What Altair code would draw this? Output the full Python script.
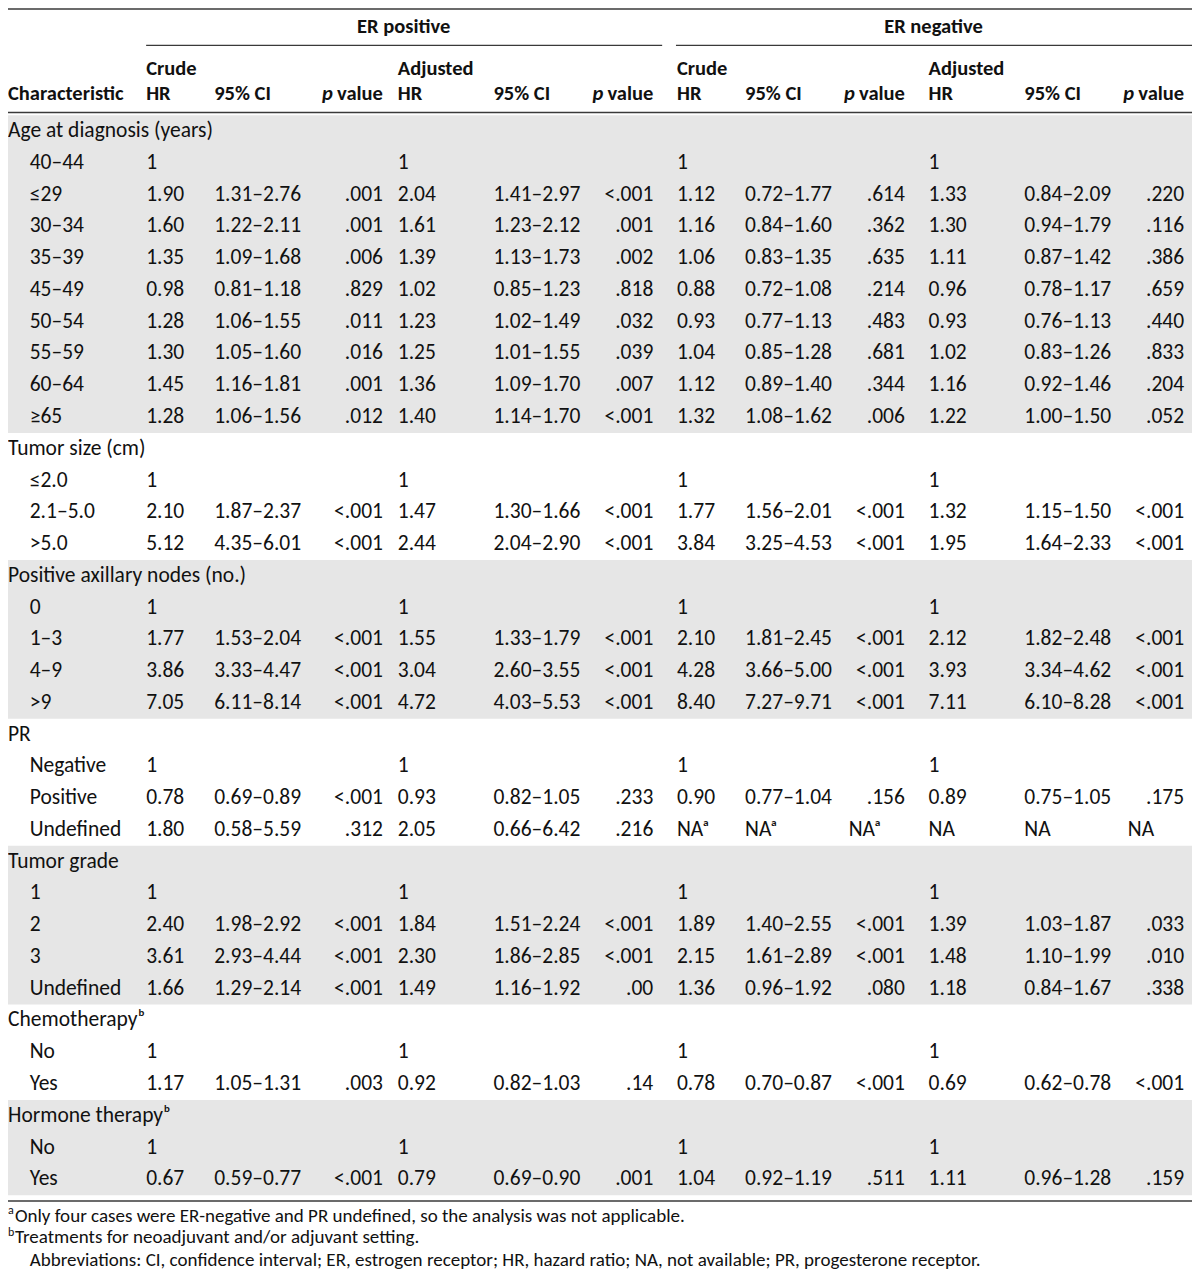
import altair as alt
import pandas as pd

# ---------------- data ----------------
GROUPS = ["Age at diagnosis (years)", "Tumor size (cm)", "Positive axillary nodes (no.)",
          "PR", "Tumor grade", "Chemotherapyᵇ", "Hormone therapyᵇ"]
LEVELS = [
    ["40–44", "≤29", "30–34", "35–39", "45–49", "50–54", "55–59", "60–64", "≥65"],
    ["≤2.0", "2.1–5.0", ">5.0"],
    ["0", "1–3", "4–9", ">9"],
    ["Negative", "Positive", "Undefined"],
    ["1", "2", "3", "Undefined"],
    ["No", "Yes"],
    ["No", "Yes"],
]
ERP_CRUDE_HR = ["1", "1.90", "1.60", "1.35", "0.98", "1.28", "1.30", "1.45", "1.28",
                "1", "2.10", "5.12", "1", "1.77", "3.86", "7.05", "1", "0.78", "1.80",
                "1", "2.40", "3.61", "1.66", "1", "1.17", "1", "0.67"]
ERP_CRUDE_CI = ["", "1.31–2.76", "1.22–2.11", "1.09–1.68", "0.81–1.18", "1.06–1.55", "1.05–1.60", "1.16–1.81", "1.06–1.56",
                "", "1.87–2.37", "4.35–6.01", "", "1.53–2.04", "3.33–4.47", "6.11–8.14", "", "0.69–0.89", "0.58–5.59",
                "", "1.98–2.92", "2.93–4.44", "1.29–2.14", "", "1.05–1.31", "", "0.59–0.77"]
ERP_CRUDE_P = ["", ".001", ".001", ".006", ".829", ".011", ".016", ".001", ".012",
               "", "<.001", "<.001", "", "<.001", "<.001", "<.001", "", "<.001", ".312",
               "", "<.001", "<.001", "<.001", "", ".003", "", "<.001"]
ERP_ADJ_HR = ["1", "2.04", "1.61", "1.39", "1.02", "1.23", "1.25", "1.36", "1.40",
              "1", "1.47", "2.44", "1", "1.55", "3.04", "4.72", "1", "0.93", "2.05",
              "1", "1.84", "2.30", "1.49", "1", "0.92", "1", "0.79"]
ERP_ADJ_CI = ["", "1.41–2.97", "1.23–2.12", "1.13–1.73", "0.85–1.23", "1.02–1.49", "1.01–1.55", "1.09–1.70", "1.14–1.70",
              "", "1.30–1.66", "2.04–2.90", "", "1.33–1.79", "2.60–3.55", "4.03–5.53", "", "0.82–1.05", "0.66–6.42",
              "", "1.51–2.24", "1.86–2.85", "1.16–1.92", "", "0.82–1.03", "", "0.69–0.90"]
ERP_ADJ_P = ["", "<.001", ".001", ".002", ".818", ".032", ".039", ".007", "<.001",
             "", "<.001", "<.001", "", "<.001", "<.001", "<.001", "", ".233", ".216",
             "", "<.001", "<.001", ".00", "", ".14", "", ".001"]
ERN_CRUDE_HR = ["1", "1.12", "1.16", "1.06", "0.88", "0.93", "1.04", "1.12", "1.32",
                "1", "1.77", "3.84", "1", "2.10", "4.28", "8.40", "1", "0.90", "NAᵃ",
                "1", "1.89", "2.15", "1.36", "1", "0.78", "1", "1.04"]
ERN_CRUDE_CI = ["", "0.72–1.77", "0.84–1.60", "0.83–1.35", "0.72–1.08", "0.77–1.13", "0.85–1.28", "0.89–1.40", "1.08–1.62",
                "", "1.56–2.01", "3.25–4.53", "", "1.81–2.45", "3.66–5.00", "7.27–9.71", "", "0.77–1.04", "NAᵃ",
                "", "1.40–2.55", "1.61–2.89", "0.96–1.92", "", "0.70–0.87", "", "0.92–1.19"]
ERN_CRUDE_P = ["", ".614", ".362", ".635", ".214", ".483", ".681", ".344", ".006",
               "", "<.001", "<.001", "", "<.001", "<.001", "<.001", "", ".156", "NAᵃ",
               "", "<.001", "<.001", ".080", "", "<.001", "", ".511"]
ERN_ADJ_HR = ["1", "1.33", "1.30", "1.11", "0.96", "0.93", "1.02", "1.16", "1.22",
              "1", "1.32", "1.95", "1", "2.12", "3.93", "7.11", "1", "0.89", "NA",
              "1", "1.39", "1.48", "1.18", "1", "0.69", "1", "1.11"]
ERN_ADJ_CI = ["", "0.84–2.09", "0.94–1.79", "0.87–1.42", "0.78–1.17", "0.76–1.13", "0.83–1.26", "0.92–1.46", "1.00–1.50",
              "", "1.15–1.50", "1.64–2.33", "", "1.82–2.48", "3.34–4.62", "6.10–8.28", "", "0.75–1.05", "NA",
              "", "1.03–1.87", "1.10–1.99", "0.84–1.67", "", "0.62–0.78", "", "0.96–1.28"]
ERN_ADJ_P = ["", ".220", ".116", ".386", ".659", ".440", ".833", ".204", ".052",
             "", "<.001", "<.001", "", "<.001", "<.001", "<.001", "", ".175", "NA",
             "", ".033", ".010", ".338", "", "<.001", "", ".159"]

SPANNERS = ["ER positive", "ER negative"]
COL_HEAD_TOP = ["Crude", "", "", "Adjusted", "", "", "Crude", "", "", "Adjusted", "", ""]
COL_HEAD_BOT = ["HR", "95% CI", "p value", "HR", "95% CI", "p value", "HR", "95% CI", "p value", "HR", "95% CI", "p value"]
STUB_HEAD = "Characteristic"
FOOT_MARKS = ["a", "b", ""]
FOOTNOTES = ["Only four cases were ER-negative and PR undefined, so the analysis was not applicable.",
             "Treatments for neoadjuvant and/or adjuvant setting.",
             "Abbreviations: CI, confidence interval; ER, estrogen receptor; HR, hazard ratio; NA, not available; PR, progesterone receptor."]

VALUE_COLS = [ERP_CRUDE_HR, ERP_CRUDE_CI, ERP_CRUDE_P, ERP_ADJ_HR, ERP_ADJ_CI, ERP_ADJ_P,
              ERN_CRUDE_HR, ERN_CRUDE_CI, ERN_CRUDE_P, ERN_ADJ_HR, ERN_ADJ_CI, ERN_ADJ_P]

# ---------------- layout (reference pixel space) ----------------
REF_W, REF_H = 1200, 1281
W, H = 1184, 1262
FONT = "Carlito, Lato, sans-serif"
FS = 21.5
FS_HEAD = 20.5
FS_FOOT = 19
TXT = "#111111"
GRAY = "#e6e6e6"
LINE = "#3a3a3a"
ROW0, ROW_H = 125, 32.24
# column anchors: left edge for HR/CI columns, right edge for p columns
COL_X = [140, 209, 380, 395, 492, 654, 678, 747, 909, 933, 1030, 1192]
COL_ALIGN = ["left", "left", "right"] * 4
NA_P_SHIFT = -57
STUB_X, LEVEL_X = 0, 22
SPAN_X = [401, 938]
SPAN_LINES = [(140, 663), (677, 1200)]
HEAD_Y = [19, 62, 87]
LINES_Y = {"top": 1, "span": 38, "head": 106, "bottom": 1211}
FOOT_Y = [1226, 1248, 1271]
FOOT_X = [7, 7, 22]
P_DX = -50

XS = alt.Scale(domain=[0, REF_W], range=[0, W], nice=False, zero=False)
YS = alt.Scale(domain=[0, REF_H], reverse=True, nice=False, zero=False)

# ---------------- build tables ----------------
left_rows, right_rows, bands = [], [], []
r = 0
k = 0
for g, (gname, levels) in enumerate(zip(GROUPS, LEVELS)):
    y_start = ROW0 + r * ROW_H
    left_rows.append({"x": STUB_X, "y": y_start, "t": gname})
    r += 1
    for lev in levels:
        y = ROW0 + r * ROW_H
        left_rows.append({"x": LEVEL_X, "y": y, "t": lev})
        for c, col in enumerate(VALUE_COLS):
            v = col[k]
            if not v:
                continue
            if v.startswith("NA") and COL_ALIGN[c] == "right":
                left_rows.append({"x": COL_X[c] + NA_P_SHIFT, "y": y, "t": v})
            elif COL_ALIGN[c] == "right":
                right_rows.append({"x": COL_X[c], "y": y, "t": v})
            else:
                left_rows.append({"x": COL_X[c], "y": y, "t": v})
        r += 1
        k += 1
    if g % 2 == 0:
        bands.append({"y0": y_start - ROW_H / 2, "y1": ROW0 + (r - 1) * ROW_H + ROW_H / 2})

body_left = pd.DataFrame(left_rows)
body_right = pd.DataFrame(right_rows)
bands_df = pd.DataFrame(bands)

head_left, head_right, head_p = [], [], []
head_left.append({"x": STUB_X, "y": HEAD_Y[2], "t": STUB_HEAD})
for c in range(12):
    if COL_HEAD_TOP[c]:
        head_left.append({"x": COL_X[c], "y": HEAD_Y[1], "t": COL_HEAD_TOP[c]})
    lab = COL_HEAD_BOT[c]
    if lab.startswith("p "):
        head_right.append({"x": COL_X[c], "y": HEAD_Y[2], "t": lab[2:]})
        head_p.append({"x": COL_X[c], "y": HEAD_Y[2], "t": "p"})
    else:
        head_left.append({"x": COL_X[c], "y": HEAD_Y[2], "t": lab})
head_center = pd.DataFrame([{"x": SPAN_X[i], "y": HEAD_Y[0], "t": SPANNERS[i]} for i in range(2)])

lines = [
    {"x0": 0, "x1": REF_W, "y": LINES_Y["top"], "w": 1.5},
    {"x0": SPAN_LINES[0][0], "x1": SPAN_LINES[0][1], "y": LINES_Y["span"], "w": 1.3},
    {"x0": SPAN_LINES[1][0], "x1": SPAN_LINES[1][1], "y": LINES_Y["span"], "w": 1.3},
    {"x0": 0, "x1": REF_W, "y": LINES_Y["head"], "w": 1.5},
    {"x0": 0, "x1": REF_W, "y": LINES_Y["bottom"], "w": 1.5},
]
lines_df = pd.DataFrame(lines)

foot_df = pd.DataFrame([{"x": FOOT_X[i], "y": FOOT_Y[i], "t": FOOTNOTES[i]} for i in range(3)])
sup_df = pd.DataFrame([{"x": 0, "y": FOOT_Y[i] - 6, "t": FOOT_MARKS[i]} for i in range(3) if FOOT_MARKS[i]])


def text_layer(df, align="left", size=FS, weight="normal", style="normal", dx=0):
    return alt.Chart(df).mark_text(
        align=align, baseline="middle", font=FONT, fontSize=size,
        fontWeight=weight, fontStyle=style, dx=dx, color=TXT
    ).encode(
        x=alt.X("x:Q", scale=XS, axis=None),
        y=alt.Y("y:Q", scale=YS, axis=None),
        text="t:N",
    )


band_layer = alt.Chart(bands_df).mark_rect(color=GRAY).encode(
    x=alt.value(0), x2=alt.value(W),
    y=alt.Y("y0:Q", scale=YS, axis=None), y2="y1:Q",
)
rule_layer = alt.Chart(lines_df).mark_rule(color=LINE).encode(
    x=alt.X("x0:Q", scale=XS, axis=None), x2="x1:Q",
    y=alt.Y("y:Q", scale=YS, axis=None),
    strokeWidth=alt.StrokeWidth("w:Q", scale=None, legend=None),
)

chart = alt.layer(
    band_layer,
    rule_layer,
    text_layer(body_left, "left"),
    text_layer(body_right, "right"),
    text_layer(pd.DataFrame(head_left), "left", size=FS_HEAD, weight="bold"),
    text_layer(pd.DataFrame(head_right), "right", size=FS_HEAD, weight="bold"),
    text_layer(pd.DataFrame(head_p), "right", size=FS_HEAD, weight="bold", style="italic", dx=P_DX),
    text_layer(head_center, "center", size=FS_HEAD, weight="bold"),
    text_layer(foot_df, "left", size=FS_FOOT),
    text_layer(sup_df, "left", size=12),
).properties(
    width=W, height=H, padding=0, autosize=alt.AutoSizeParams(type="none"),
).configure_view(stroke=None)

chart.save("out.html", embed_options={"renderer": "svg", "actions": False})
